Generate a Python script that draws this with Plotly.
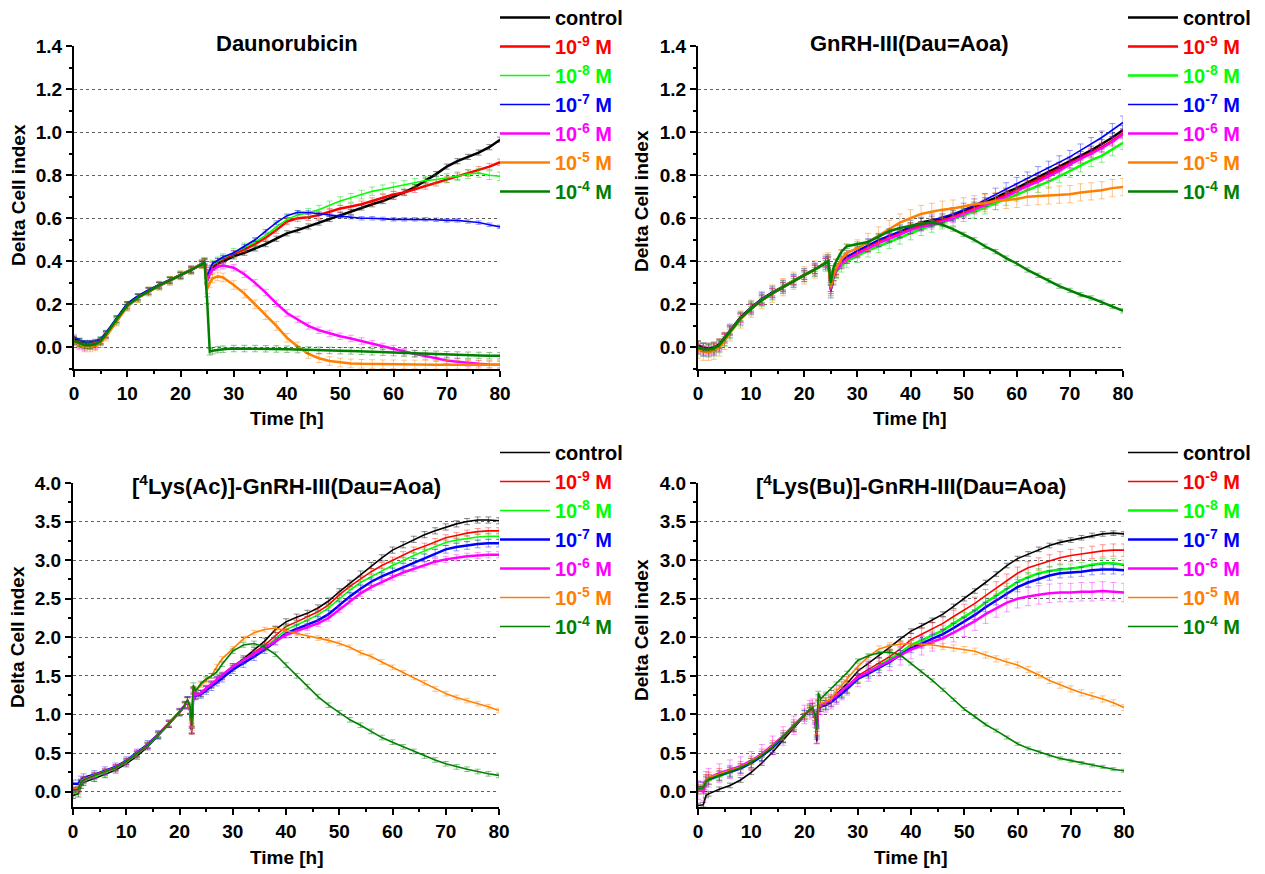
import plotly.graph_objects as go

FONT = "Liberation Sans, Arial, Helvetica, sans-serif"
W, H = 1265, 874

# ---------------- data ----------------
T_TOP = [0, 1, 2, 3, 4, 5, 6, 8, 10, 12, 14, 16, 18, 20, 22, 24, 24.5, 25, 25.5, 26, 27, 28,
         30, 32, 34, 36, 38, 40, 42, 44, 46, 48, 50, 52, 54, 56, 58, 60, 62, 64, 66, 68, 70,
         72, 74, 76, 78, 80]
T_BOT = [0, 1, 1.5, 2, 4, 6, 8, 10, 12, 14, 16, 18, 20, 21, 21.5, 22, 22.3, 22.6, 23, 24, 25, 26, 27, 28,
         30, 32, 34, 36, 38, 40, 42, 44, 46, 48, 50, 52, 54, 56, 58, 60, 62, 64, 66, 68, 70,
         72, 74, 76, 78, 80]

SERIES_NAMES = ["control", "10<sup>-9</sup> M", "10<sup>-8</sup> M", "10<sup>-7</sup> M",
                "10<sup>-6</sup> M", "10<sup>-5</sup> M", "10<sup>-4</sup> M"]
PANEL_TITLES = ["Daunorubicin", "GnRH-III(Dau=Aoa)",
                "[<sup>4</sup>Lys(Ac)]-GnRH-III(Dau=Aoa)", "[<sup>4</sup>Lys(Bu)]-GnRH-III(Dau=Aoa)"]

# Daunorubicin
TL_CONTROL = [0.04, 0.03, 0.02, 0.02, 0.02, 0.03, 0.06, 0.13, 0.20, 0.235, 0.265, 0.29, 0.313, 0.336, 0.36, 0.388,
              0.398, 0.31, 0.35, 0.37, 0.39, 0.40,
              0.423, 0.44, 0.46, 0.48, 0.505, 0.53, 0.545, 0.562, 0.58, 0.597, 0.615, 0.63, 0.65, 0.665, 0.68,
              0.70, 0.72, 0.745, 0.775, 0.805, 0.84, 0.865, 0.885, 0.905, 0.93, 0.965]
TL_E9 = [0.03, 0.02, 0.01, 0.01, 0.02, 0.03, 0.06, 0.13, 0.195, 0.235, 0.262, 0.288, 0.312, 0.335, 0.36, 0.387,
         0.397, 0.32, 0.355, 0.38, 0.40, 0.41,
         0.435, 0.455, 0.48, 0.51, 0.545, 0.585, 0.60, 0.605, 0.615, 0.63, 0.645, 0.655, 0.665, 0.68, 0.695,
         0.71, 0.72, 0.735, 0.75, 0.765, 0.78, 0.795, 0.81, 0.825, 0.84, 0.86]
TL_E8 = [0.03, 0.02, 0.01, 0.01, 0.01, 0.03, 0.06, 0.125, 0.19, 0.23, 0.26, 0.287, 0.31, 0.335, 0.36, 0.387,
         0.398, 0.32, 0.36, 0.385, 0.40, 0.415,
         0.44, 0.465, 0.49, 0.52, 0.56, 0.595, 0.615, 0.625, 0.64, 0.66, 0.68, 0.695, 0.71, 0.725, 0.735,
         0.745, 0.755, 0.765, 0.775, 0.78, 0.787, 0.795, 0.805, 0.81, 0.80, 0.795]
TL_E7 = [0.05, 0.035, 0.025, 0.025, 0.03, 0.04, 0.07, 0.14, 0.205, 0.24, 0.268, 0.292, 0.315, 0.337, 0.36, 0.388,
         0.398, 0.33, 0.365, 0.39, 0.405, 0.42,
         0.44, 0.47, 0.50, 0.54, 0.58, 0.612, 0.628, 0.627, 0.62, 0.615, 0.61, 0.605, 0.60, 0.60, 0.597,
         0.595, 0.595, 0.595, 0.595, 0.593, 0.59, 0.59, 0.585, 0.58, 0.57, 0.56]
TL_E6 = [0.03, 0.01, 0.0, 0.005, 0.01, 0.025, 0.055, 0.125, 0.19, 0.23, 0.26, 0.287, 0.31, 0.335, 0.36, 0.387,
         0.397, 0.31, 0.34, 0.36, 0.375, 0.38,
         0.37, 0.34, 0.30, 0.255, 0.205, 0.16, 0.13, 0.10, 0.08, 0.065, 0.052, 0.042, 0.03, 0.018, 0.005,
         -0.005, -0.02, -0.03, -0.04, -0.05, -0.06, -0.066, -0.072, -0.076, -0.079, -0.08]
TL_E5 = [0.03, 0.01, 0.0, 0.0, 0.005, 0.02, 0.05, 0.12, 0.19, 0.23, 0.26, 0.287, 0.31, 0.335, 0.36, 0.387,
         0.395, 0.27, 0.30, 0.32, 0.33, 0.325,
         0.29, 0.25, 0.20, 0.15, 0.10, 0.045, 0.005, -0.03, -0.05, -0.063, -0.07, -0.074, -0.076, -0.077, -0.078,
         -0.078, -0.079, -0.079, -0.08, -0.08, -0.08, -0.08, -0.08, -0.08, -0.08, -0.08]
TL_E4 = [0.03, 0.02, 0.01, 0.01, 0.015, 0.03, 0.06, 0.13, 0.195, 0.232, 0.262, 0.288, 0.312, 0.335, 0.36, 0.387,
         0.398, 0.22, -0.02, -0.015, -0.01, -0.008,
         -0.005, -0.005, -0.005, -0.006, -0.007, -0.008, -0.01, -0.012, -0.013, -0.014, -0.015, -0.016, -0.018,
         -0.02, -0.022, -0.024, -0.026, -0.028, -0.03, -0.032, -0.034, -0.035, -0.036, -0.037, -0.038, -0.038]
TL_ERR = [0.012, 0.015, 0.02, 0.008, 0.015, 0.02, 0.015]

# GnRH-III(Dau=Aoa)
TR_CONTROL = [0.01, 0.0, -0.005, 0.0, 0.015, 0.045, 0.08, 0.14, 0.185, 0.225, 0.255, 0.283, 0.312, 0.337, 0.363, 0.395,
              0.40, 0.28, 0.33, 0.36, 0.40, 0.42,
              0.445, 0.47, 0.495, 0.515, 0.535, 0.56, 0.58, 0.59, 0.60, 0.615, 0.635, 0.655, 0.675, 0.695, 0.72,
              0.74, 0.765, 0.79, 0.815, 0.84, 0.865, 0.89, 0.915, 0.945, 0.975, 1.01]
TR_E9 = [0.0, -0.01, -0.01, -0.005, 0.01, 0.04, 0.075, 0.135, 0.18, 0.22, 0.252, 0.28, 0.31, 0.335, 0.362, 0.393,
         0.40, 0.27, 0.33, 0.36, 0.395, 0.415,
         0.44, 0.465, 0.49, 0.51, 0.53, 0.55, 0.565, 0.58, 0.59, 0.605, 0.625, 0.645, 0.665, 0.685, 0.71,
         0.73, 0.755, 0.78, 0.805, 0.83, 0.855, 0.88, 0.905, 0.93, 0.96, 0.995]
TR_E8 = [0.0, -0.01, -0.015, -0.01, 0.005, 0.035, 0.07, 0.13, 0.18, 0.22, 0.25, 0.28, 0.31, 0.335, 0.36, 0.39,
         0.40, 0.27, 0.325, 0.35, 0.38, 0.40,
         0.425, 0.45, 0.47, 0.49, 0.51, 0.53, 0.55, 0.565, 0.58, 0.595, 0.615, 0.63, 0.65, 0.67, 0.69,
         0.71, 0.73, 0.75, 0.77, 0.795, 0.82, 0.845, 0.87, 0.89, 0.92, 0.95]
TR_E7 = [0.0, -0.01, -0.01, -0.005, 0.01, 0.04, 0.075, 0.135, 0.185, 0.225, 0.255, 0.283, 0.31, 0.336, 0.362, 0.394,
         0.40, 0.26, 0.32, 0.355, 0.395, 0.42,
         0.45, 0.475, 0.50, 0.52, 0.54, 0.56, 0.575, 0.59, 0.605, 0.62, 0.64, 0.66, 0.685, 0.71, 0.735,
         0.76, 0.785, 0.81, 0.835, 0.86, 0.885, 0.915, 0.945, 0.975, 1.01, 1.045]
TR_E6 = [-0.005, -0.015, -0.015, -0.01, 0.005, 0.04, 0.075, 0.135, 0.18, 0.22, 0.252, 0.28, 0.31, 0.335, 0.362, 0.393,
         0.40, 0.27, 0.33, 0.355, 0.39, 0.41,
         0.435, 0.46, 0.485, 0.505, 0.525, 0.545, 0.56, 0.57, 0.585, 0.60, 0.62, 0.64, 0.66, 0.68, 0.70,
         0.725, 0.75, 0.77, 0.795, 0.82, 0.85, 0.875, 0.90, 0.925, 0.955, 0.99]
TR_E5 = [-0.01, -0.02, -0.02, -0.015, 0.0, 0.03, 0.07, 0.13, 0.18, 0.22, 0.25, 0.28, 0.31, 0.335, 0.362, 0.393,
         0.40, 0.28, 0.34, 0.37, 0.41, 0.44,
         0.46, 0.49, 0.52, 0.55, 0.58, 0.60, 0.62, 0.63, 0.64, 0.645, 0.655, 0.665, 0.67, 0.68, 0.685,
         0.69, 0.70, 0.703, 0.706, 0.71, 0.712, 0.72, 0.725, 0.73, 0.74, 0.745]
TR_E4 = [0.0, -0.01, -0.01, -0.005, 0.01, 0.04, 0.075, 0.135, 0.18, 0.22, 0.252, 0.28, 0.31, 0.336, 0.362, 0.394,
         0.40, 0.30, 0.37, 0.40, 0.445, 0.47,
         0.48, 0.49, 0.515, 0.54, 0.555, 0.565, 0.575, 0.58, 0.57, 0.55, 0.525, 0.50, 0.47, 0.445, 0.415,
         0.39, 0.36, 0.335, 0.31, 0.285, 0.265, 0.245, 0.23, 0.21, 0.19, 0.17]
TR_ERR = [0.02, 0.02, 0.03, 0.03, 0.02, 0.04, 0.01]

# [4Lys(Ac)]-GnRH-III(Dau=Aoa)
BL_CONTROL = [-0.05, -0.03, 0.08, 0.12, 0.17, 0.22, 0.28, 0.36, 0.46, 0.58, 0.72, 0.87, 1.03, 1.12, 1.19, 1.05, 0.80,
              1.32, 1.24, 1.27, 1.33, 1.39, 1.45, 1.50,
              1.62, 1.72, 1.83, 1.95, 2.10, 2.20, 2.26, 2.31, 2.38, 2.47, 2.59, 2.70, 2.82, 2.93, 3.03,
              3.13, 3.20, 3.27, 3.33, 3.38, 3.43, 3.47, 3.50, 3.52, 3.52, 3.51]
BL_E9 = [0.0, 0.02, 0.12, 0.15, 0.20, 0.25, 0.31, 0.39, 0.49, 0.60, 0.74, 0.88, 1.03, 1.12, 1.18, 1.05, 0.78,
         1.30, 1.25, 1.27, 1.33, 1.38, 1.44, 1.49,
         1.60, 1.70, 1.80, 1.90, 2.02, 2.14, 2.20, 2.26, 2.33, 2.42, 2.55, 2.66, 2.76, 2.85, 2.93,
         3.00, 3.07, 3.13, 3.18, 3.24, 3.29, 3.32, 3.35, 3.37, 3.38, 3.38]
BL_E8 = [-0.03, 0.0, 0.10, 0.14, 0.19, 0.24, 0.30, 0.38, 0.48, 0.59, 0.73, 0.87, 1.02, 1.11, 1.18, 1.04, 0.79,
         1.31, 1.25, 1.27, 1.33, 1.38, 1.44, 1.49,
         1.60, 1.69, 1.78, 1.87, 1.98, 2.10, 2.16, 2.22, 2.29, 2.38, 2.50, 2.61, 2.71, 2.79, 2.86,
         2.93, 3.00, 3.06, 3.12, 3.18, 3.23, 3.26, 3.28, 3.30, 3.31, 3.31]
BL_E7 = [0.10, 0.10, 0.15, 0.18, 0.22, 0.27, 0.32, 0.40, 0.50, 0.61, 0.74, 0.88, 1.03, 1.12, 1.18, 1.05, 0.80,
         1.28, 1.24, 1.26, 1.31, 1.36, 1.42, 1.47,
         1.58, 1.66, 1.75, 1.84, 1.95, 2.05, 2.11, 2.16, 2.22, 2.30, 2.42, 2.53, 2.63, 2.72, 2.79,
         2.85, 2.91, 2.97, 3.03, 3.09, 3.14, 3.17, 3.19, 3.21, 3.22, 3.22]
BL_E6 = [0.02, 0.03, 0.12, 0.15, 0.21, 0.26, 0.31, 0.39, 0.49, 0.60, 0.74, 0.88, 1.03, 1.12, 1.18, 1.05, 0.80,
         1.30, 1.25, 1.28, 1.34, 1.40, 1.46, 1.51,
         1.62, 1.70, 1.78, 1.86, 1.95, 2.03, 2.08, 2.13, 2.18, 2.25, 2.36, 2.47, 2.57, 2.65, 2.72,
         2.78, 2.84, 2.89, 2.94, 2.98, 3.01, 3.03, 3.05, 3.06, 3.07, 3.07]
BL_E5 = [0.03, 0.04, 0.13, 0.16, 0.21, 0.26, 0.31, 0.39, 0.49, 0.60, 0.74, 0.88, 1.03, 1.12, 1.18, 1.05, 0.82,
         1.33, 1.30, 1.38, 1.44, 1.50, 1.62, 1.72,
         1.85, 1.98, 2.06, 2.10, 2.12, 2.08, 2.05, 2.02, 1.99, 1.96, 1.92, 1.87, 1.80, 1.75, 1.68,
         1.61, 1.54, 1.48, 1.41, 1.33, 1.27, 1.22, 1.18, 1.14, 1.10, 1.05]
BL_E4 = [0.02, 0.03, 0.12, 0.15, 0.21, 0.26, 0.31, 0.39, 0.49, 0.60, 0.74, 0.88, 1.03, 1.12, 1.19, 1.10, 0.85,
         1.38, 1.30, 1.40, 1.46, 1.50, 1.55, 1.65,
         1.82, 1.90, 1.92, 1.87, 1.78, 1.64, 1.50, 1.36, 1.23, 1.12, 1.02, 0.93, 0.86, 0.78, 0.70,
         0.64, 0.58, 0.52, 0.46, 0.41, 0.36, 0.32, 0.29, 0.26, 0.23, 0.21]
BL_ERR = [0.04, 0.04, 0.04, 0.05, 0.04, 0.03, 0.03]

# [4Lys(Bu)]-GnRH-III(Dau=Aoa)
BR_CONTROL = [-0.18, -0.17, -0.05, -0.03, 0.03, 0.08, 0.15, 0.25, 0.37, 0.51, 0.67, 0.83, 0.98, 1.06, 1.08, 0.95, 0.65,
              1.15, 1.10, 1.15, 1.20, 1.26, 1.33, 1.40,
              1.56, 1.66, 1.76, 1.87, 1.98, 2.08, 2.15, 2.22, 2.30, 2.40, 2.50, 2.60, 2.71, 2.82, 2.93,
              3.02, 3.08, 3.14, 3.19, 3.23, 3.26, 3.29, 3.32, 3.34, 3.35, 3.34]
BR_E9 = [0.05, 0.05, 0.14, 0.17, 0.22, 0.26, 0.31, 0.38, 0.47, 0.58, 0.71, 0.85, 0.99, 1.06, 1.08, 0.95, 0.78,
         1.12, 1.12, 1.14, 1.18, 1.24, 1.30, 1.36,
         1.50, 1.58, 1.66, 1.75, 1.85, 1.97, 2.04, 2.11, 2.18, 2.27, 2.35, 2.44, 2.54, 2.64, 2.74,
         2.83, 2.90, 2.95, 2.99, 3.03, 3.06, 3.08, 3.10, 3.12, 3.13, 3.13]
BR_E8 = [0.03, 0.03, 0.12, 0.15, 0.20, 0.25, 0.30, 0.37, 0.46, 0.57, 0.70, 0.84, 0.99, 1.06, 1.08, 0.95, 0.78,
         1.12, 1.12, 1.14, 1.18, 1.23, 1.29, 1.35,
         1.47, 1.55, 1.63, 1.71, 1.80, 1.90, 1.96, 2.02, 2.09, 2.18, 2.26, 2.35, 2.45, 2.54, 2.64,
         2.72, 2.78, 2.83, 2.86, 2.88, 2.89, 2.91, 2.94, 2.96, 2.96, 2.94]
BR_E7 = [0.06, 0.06, 0.14, 0.16, 0.21, 0.26, 0.30, 0.37, 0.46, 0.57, 0.70, 0.84, 0.99, 1.06, 1.08, 0.95, 0.78,
         1.10, 1.10, 1.12, 1.16, 1.21, 1.27, 1.33,
         1.46, 1.53, 1.60, 1.68, 1.77, 1.86, 1.92, 1.98, 2.04, 2.12, 2.20, 2.29, 2.39, 2.48, 2.57,
         2.65, 2.71, 2.76, 2.80, 2.83, 2.84, 2.85, 2.87, 2.88, 2.88, 2.87]
BR_E6 = [0.02, 0.0, 0.14, 0.18, 0.24, 0.29, 0.33, 0.40, 0.49, 0.60, 0.72, 0.86, 1.00, 1.06, 1.08, 0.95, 0.75,
         1.12, 1.12, 1.15, 1.19, 1.25, 1.31, 1.37,
         1.48, 1.55, 1.62, 1.69, 1.76, 1.84, 1.89, 1.94, 1.99, 2.06, 2.13, 2.21, 2.30, 2.38, 2.45,
         2.50, 2.53, 2.55, 2.57, 2.58, 2.58, 2.59, 2.59, 2.60, 2.59, 2.58]
BR_E5 = [0.05, 0.06, 0.15, 0.18, 0.23, 0.27, 0.32, 0.39, 0.48, 0.59, 0.71, 0.85, 0.99, 1.06, 1.08, 0.95, 0.78,
         1.15, 1.14, 1.17, 1.20, 1.30, 1.38, 1.45,
         1.62, 1.75, 1.85, 1.89, 1.91, 1.92, 1.91, 1.90, 1.88, 1.86, 1.84, 1.82, 1.77, 1.72, 1.68,
         1.64, 1.58, 1.51, 1.44, 1.38, 1.33, 1.28, 1.24, 1.20, 1.15, 1.09]
BR_E4 = [0.04, 0.05, 0.13, 0.16, 0.21, 0.26, 0.31, 0.38, 0.47, 0.58, 0.71, 0.85, 0.99, 1.06, 1.08, 0.98, 0.80,
         1.28, 1.20, 1.27, 1.33, 1.40, 1.47, 1.54,
         1.70, 1.76, 1.80, 1.81, 1.77, 1.66, 1.56, 1.44, 1.32, 1.19, 1.07, 0.97, 0.87, 0.79, 0.70,
         0.62, 0.56, 0.51, 0.47, 0.43, 0.40, 0.37, 0.34, 0.32, 0.29, 0.27]
BR_ERR = [0.03, 0.08, 0.06, 0.06, 0.12, 0.04, 0.02]

# ---------------- styling ----------------
COLORS = ["#000000", "#ff0000", "#00ff00", "#0000ff", "#ff00ff", "#ff8000", "#008000"]
ERR_COLORS = ["rgba(0,0,0,0.45)", "rgba(255,0,0,0.4)", "rgba(0,220,0,0.45)", "rgba(0,0,255,0.4)",
              "rgba(255,0,255,0.4)", "rgba(255,128,0,0.45)", "rgba(0,128,0,0.45)"]

panels = [
    dict(t=T_TOP, ys=[TL_CONTROL, TL_E9, TL_E8, TL_E7, TL_E6, TL_E5, TL_E4], err=TL_ERR,
         px=(74, 500), py=(46, 369), yr=[-0.1, 1.4], dt=0.2, mdt=0.1, fmt=".1f",
         leg=(495, -2), ytitle=(18, 195), xtitle=(287, 418), title=(287, 44),
         widths=[2.5, 2.5, 1.6, 1.6, 2.5, 2.5, 2.5]),
    dict(t=T_TOP, ys=[TR_CONTROL, TR_E9, TR_E8, TR_E7, TR_E6, TR_E5, TR_E4], err=TR_ERR,
         px=(698, 1123), py=(46, 369), yr=[-0.1, 1.4], dt=0.2, mdt=0.1, fmt=".1f",
         leg=(1123, -2), ytitle=(642, 201), xtitle=(910, 418), title=(910, 44),
         widths=[2.5, 2.5, 2.5, 1.6, 2.5, 2.5, 2.5]),
    dict(t=T_BOT, ys=[BL_CONTROL, BL_E9, BL_E8, BL_E7, BL_E6, BL_E5, BL_E4], err=BL_ERR,
         px=(73, 499), py=(483, 807), yr=[-0.2, 4.0], dt=0.5, mdt=0.25, fmt=".1f",
         leg=(495, 433), ytitle=(17, 637), xtitle=(287, 857), title=(286, 485),
         widths=[1.6, 1.6, 1.6, 2.5, 2.5, 1.6, 1.6]),
    dict(t=T_BOT, ys=[BR_CONTROL, BR_E9, BR_E8, BR_E7, BR_E6, BR_E5, BR_E4], err=BR_ERR,
         px=(698, 1124), py=(483, 807), yr=[-0.2, 4.0], dt=0.5, mdt=0.25, fmt=".1f",
         leg=(1123, 433), ytitle=(641, 630), xtitle=(911, 857), title=(911, 485),
         widths=[1.6, 1.6, 2.5, 2.5, 2.5, 1.6, 1.6]),
]

fig = go.Figure()
annotations = []
layout = dict(
    width=W, height=H, margin=dict(l=0, r=0, t=0, b=0, autoexpand=False),
    paper_bgcolor="white", plot_bgcolor="white",
    font=dict(family=FONT, size=19, color="black", weight="bold"),
)

for i, p in enumerate(panels):
    k = "" if i == 0 else str(i + 1)
    xa, ya = "x" + k, "y" + k
    legname = "legend" + k
    for j, (y, name) in enumerate(zip(p["ys"], SERIES_NAMES)):
        fig.add_trace(go.Scatter(
            x=p["t"], y=y, mode="lines", xaxis=xa, yaxis=ya,
            name='<span style="color:%s">%s</span>' % (COLORS[j], name),
            legend=legname,
            line=dict(color=COLORS[j], width=p["widths"][j]),
            error_y=dict(type="constant", value=p["err"][j], color=ERR_COLORS[j],
                         thickness=1, width=3),
        ))
    x0, x1 = p["px"]
    ytop, ybot = p["py"]
    layout["xaxis" + k] = dict(
        domain=[x0 / W, x1 / W], anchor=ya, range=[0, 80], dtick=10, tick0=0,
        showline=True, linecolor="black", linewidth=2, ticks="outside", ticklen=6,
        tickwidth=1.5, tickcolor="black", showgrid=False, zeroline=False,
        minor=dict(dtick=5, ticks="outside", ticklen=3, tickcolor="black", tickwidth=1.5),
        tickfont=dict(size=19, family=FONT, weight="bold"),
    )
    layout["yaxis" + k] = dict(
        domain=[1 - ybot / H, 1 - ytop / H], anchor=xa, range=p["yr"], dtick=p["dt"], tick0=0,
        tickformat=p["fmt"], showline=True, linecolor="black", linewidth=2, ticks="outside",
        ticklen=6, tickwidth=1.5, tickcolor="black", showgrid=True, gridcolor="#606060",
        gridwidth=1, griddash="dot", zeroline=False,
        minor=dict(dtick=p["mdt"], ticks="outside", ticklen=3, tickcolor="black", tickwidth=1.5,
                   showgrid=False),
        tickfont=dict(size=19, family=FONT, weight="bold"),
    )
    lx, ly = p["leg"]
    layout[legname] = dict(
        x=lx / W, y=1 - ly / H, xanchor="left", yanchor="top", xref="paper", yref="paper",
        bgcolor="rgba(0,0,0,0)", borderwidth=0, font=dict(size=20, family=FONT, weight="bold"),
        traceorder="normal", itemwidth=50, tracegroupgap=0,
    )
    annotations.append(dict(text="<b>Delta Cell index</b>", x=p["ytitle"][0] / W, y=1 - p["ytitle"][1] / H,
                            xref="paper", yref="paper", showarrow=False, textangle=-90,
                            xanchor="center", yanchor="middle", font=dict(size=19)))
    annotations.append(dict(text="<b>Time [h]</b>", x=p["xtitle"][0] / W, y=1 - p["xtitle"][1] / H,
                            xref="paper", yref="paper", showarrow=False,
                            xanchor="center", yanchor="middle", font=dict(size=19)))
    annotations.append(dict(text="<b>%s</b>" % PANEL_TITLES[i], x=p["title"][0] / W, y=1 - p["title"][1] / H,
                            xref="paper", yref="paper", showarrow=False,
                            xanchor="center", yanchor="middle", font=dict(size=22)))

layout["annotations"] = annotations
fig.update_layout(**layout)
fig.write_html("out.html", config={"displayModeBar": False},
               post_script="document.body.style.margin='0';")
